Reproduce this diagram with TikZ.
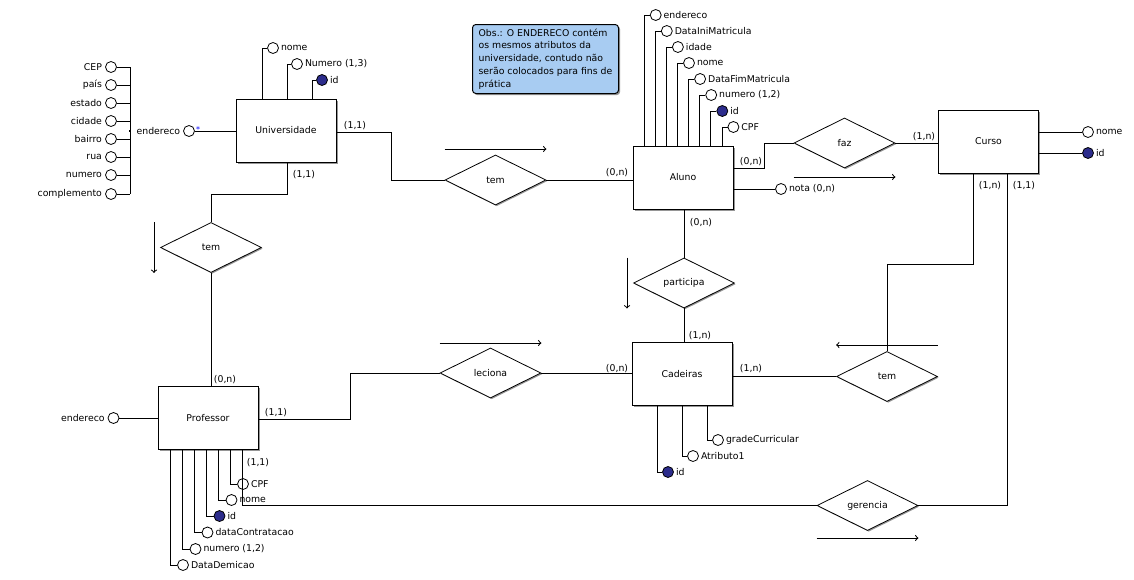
\documentclass[tikz,border=0pt]{standalone}
\usepackage{fontspec}
\setmainfont{DejaVu Sans}
\usetikzlibrary{shapes.geometric,calc,shadows}
\definecolor{keyblue}{RGB}{44,44,140}
\definecolor{noteblue}{RGB}{168,204,242}
\definecolor{shade}{RGB}{150,150,150}
\begin{document}
\begin{tikzpicture}[x=0.75pt,y=-0.75pt,
  font=\fontsize{7}{9}\selectfont,
  line width=0.75pt,
  ent/.style={draw,fill=white,rectangle,minimum width=75pt,minimum height=47.25pt,inner sep=0,
    drop shadow={shadow xshift=1.3pt,shadow yshift=-1.3pt,fill=shade,opacity=1}},
  rel/.style={draw,fill=white,diamond,minimum width=75.75pt,minimum height=37.5pt,inner sep=0,line width=0.6pt,
    drop shadow={shadow xshift=0.9pt,shadow yshift=-0.9pt,fill=shade,opacity=1}},
  attr/.style={circle,draw,fill=white,minimum size=8.25pt,inner sep=0,line width=0.6pt},
  key/.style={attr,fill=keyblue},
  lbl/.style={inner sep=1.2pt},
  card/.style={inner sep=0},
  dirarrow/.style={->,line width=0.75pt},
  note/.style={draw,fill=noteblue,rounded corners=2.5pt,align=left,anchor=north west,inner sep=2.5pt,
    minimum width=109.5pt,minimum height=51.75pt,font=\fontsize{7}{9.6}\selectfont,
    drop shadow={shadow xshift=1.2pt,shadow yshift=-1.2pt,fill=shade,opacity=1}}
]
\useasboundingbox (0,0) rectangle (1134,579);
\fill[white] (0,0) rectangle (1134,579);

% ---------- note ----------
\node[note] (obs) at (472,24) {Obs.: O ENDERECO contém\\os mesmos atributos da\\universidade, contudo não\\serão colocados para fins de\\prática};

% ---------- entities ----------
\node[ent] (U)  at (286,130.5) {Universidade};
\node[ent] (A)  at (683,177.5) {Aluno};
\node[ent] (C)  at (988.5,141.5) {Curso};
\node[ent] (Ca) at (682,374) {Cadeiras};
\node[ent] (P)  at (208,418) {Professor};

% ---------- relationships ----------
\node[rel] (r1) at (495.5,180) {tem};
\node[rel] (r2) at (211,247.5) {tem};
\node[rel] (r3) at (844.5,143) {faz};
\node[rel] (r4) at (684,283) {participa};
\node[rel] (r5) at (490.5,373) {leciona};
\node[rel] (r6) at (887,376.5) {tem};
\node[rel] (r7) at (867.5,505.5) {gerencia};

% ---------- connectors ----------
\draw (U.east |- 0,132) -- (391,132) |- (r1.west);
\draw (r1.east) -- (A.west |- r1.east);
\draw (287,0 |- U.south) -- (287,194) -| (r2.north);
\draw (r2.south) -- (P.north -| r2.south);
\draw (A.east |- 0,168) -- (764,168) |- (r3.west);
\draw (r3.east) -- (C.west |- r3.east);
\draw (A.south -| r4.north) -- (r4.north);
\draw (r4.south) -- (Ca.north -| r4.south);
\draw (P.east |- 0,419) -- (350,419) |- (r5.west);
\draw (r5.east) -- (Ca.west |- r5.east);
\draw (973,0 |- C.south) -- (973,264) -| (r6.north);
\draw (r6.west) -- (Ca.east |- r6.west);
\draw (1007,0 |- C.south) |- (r7.east);

% ---------- reading-direction arrows ----------
\draw[dirarrow] ($(r1.west)+(0,-31)$) -- ($(r1.east)+(0,-31)$);
\draw[dirarrow] ($(r2.north)+(-57,0)$) -- ($(r2.south)+(-57,0)$);
\draw[dirarrow] ($(r3.west)+(0,34)$) -- ($(r3.east)+(0,34)$);
\draw[dirarrow] ($(r4.north)+(-57,0)$) -- ($(r4.south)+(-57,0)$);
\draw[dirarrow] ($(r5.west)+(0,-30)$) -- ($(r5.east)+(0,-30)$);
\draw[dirarrow] ($(r6.east)+(0,-31.5)$) -- ($(r6.west)+(0,-31.5)$);
\draw[dirarrow] ($(r7.west)+(0,32.5)$) -- ($(r7.east)+(0,32.5)$);

% ---------- cardinalities ----------
\node[card] (k1)  at (355,126) {(1,1)};
\node[card] (k2)  at (617,173) {(0,n)};
\node[card] (k3)  at (304,175) {(1,1)};
\node[card] (k4)  at (225,380) {(0,n)};
\node[card] (k5)  at (751,162) {(0,n)};
\node[card] (k6)  at (924,137) {(1,n)};
\node[card] (k7)  at (701,223) {(0,n)};
\node[card] (k8)  at (700,336) {(1,n)};
\node[card] (k9)  at (276,413) {(1,1)};
\node[card] (k10) at (617,369) {(0,n)};
\node[card] (k11) at (751,369) {(1,n)};
\node[card] (k12) at (990,186) {(1,n)};
\node[card] (k13) at (1024,186) {(1,1)};
\node[card] (k14) at (258,463) {(1,1)};

% ---------- Universidade attributes ----------
\node[attr,label={[lbl]right:nome}] (ua1) at (273,48) {};
\node[attr,label={[lbl]right:Numero (1,3)}] (ua2) at (297,64) {};
\node[key,label={[lbl]right:id}] (ua3) at (322,80) {};
\draw (262,0 |- U.north) |- (ua1.west);
\draw (287,0 |- U.north) |- (ua2.west);
\draw (312,0 |- U.north) |- (ua3.west);

% composite address
\node[attr,label={[lbl,inner sep=1.8pt]left:endereco}] (ua4) at (189,131) {};
\draw (U.west |- ua4.east) -- (ua4.east);
\node[text=blue,inner sep=0,font=\fontsize{6}{6}\selectfont] (ast) at (198,129.5) {*};
\coordinate (etop) at (130,67);
\coordinate (ebot) at (130,194);
\draw (etop) -- (ebot);
\node[fill,minimum size=2.2pt,inner sep=0] (ej) at (130,131) {};
\foreach \n/\t/\y in {e1/CEP/67,e2/país/85,e3/estado/103,e4/cidade/121,e5/bairro/139,e6/rua/157,e7/numero/175,e8/complemento/194}{
  \node[attr,label={[lbl,inner sep=2pt]left:\t}] (\n) at (111,\y) {};
  \draw (\n.east) -- (\n.east -| etop);
}

% ---------- Aluno attributes ----------
\node[attr,label={[lbl]right:endereco}]         (aa0) at (655.7,15) {};
\node[attr,label={[lbl]right:DataIniMatricula}] (aa1) at (666.8,31) {};
\node[attr,label={[lbl]right:idade}]            (aa2) at (677.9,47) {};
\node[attr,label={[lbl]right:nome}]             (aa3) at (689.0,63) {};
\node[attr,label={[lbl]right:DataFimMatricula}] (aa4) at (700.1,79) {};
\node[attr,label={[lbl]right:{numero (1,2)}}]   (aa5) at (711.2,95) {};
\node[key,label={[lbl]right:id}]                (aa6) at (722.3,111) {};
\node[attr,label={[lbl]right:CPF}]              (aa7) at (733.4,127) {};
\draw (644.3,0 |- A.north) |- (aa0.west);
\draw (655.4,0 |- A.north) |- (aa1.west);
\draw (666.5,0 |- A.north) |- (aa2.west);
\draw (677.6,0 |- A.north) |- (aa3.west);
\draw (688.7,0 |- A.north) |- (aa4.west);
\draw (699.8,0 |- A.north) |- (aa5.west);
\draw (710.9,0 |- A.north) |- (aa6.west);
\draw (722.0,0 |- A.north) |- (aa7.west);
\node[attr,label={[lbl]right:{nota (0,n)}}] (an) at (781,189) {};
\draw (A.east |- an.west) -- (an.west);

% ---------- Curso attributes ----------
\node[attr,label={[lbl]right:nome}] (cn) at (1088,132) {};
\node[key,label={[lbl]right:id}] (ci) at (1088,153) {};
\draw (C.east |- cn.west) -- (cn.west);
\draw (C.east |- ci.west) -- (ci.west);

% ---------- Cadeiras attributes ----------
\node[key,label={[lbl]right:id}] (cd1) at (668,472) {};
\node[attr,label={[lbl]right:Atributo1}] (cd2) at (693,456) {};
\node[attr,label={[lbl]right:gradeCurricular}] (cd3) at (718,440) {};
\draw (657.7,0 |- Ca.south) |- (cd1.west);
\draw (682.3,0 |- Ca.south) |- (cd2.west);
\draw (707.3,0 |- Ca.south) |- (cd3.west);

% ---------- Professor attributes ----------
\node[attr,label={[lbl,inner sep=1.8pt]left:endereco}] (pe) at (113.5,418) {};
\draw (pe.east) -- (P.west |- pe.east);
\node[attr,label={[lbl]right:DataDemicao}] (pa1) at (183,565) {};
\node[attr,label={[lbl]right:{numero (1,2)}}] (pa2) at (195.5,549) {};
\node[attr,label={[lbl]right:dataContratacao}] (pa3) at (207.5,532.5) {};
\node[key,label={[lbl]right:id}] (pa4) at (219.5,516) {};
\node[attr,label={[lbl]right:nome}] (pa5) at (231.5,500) {};
\node[attr,label={[lbl]right:CPF}] (pa6) at (243,484) {};
\draw (170.7,0 |- P.south) |- (pa1.west);
\draw (182.3,0 |- P.south) |- (pa2.west);
\draw (194.3,0 |- P.south) |- (pa3.west);
\draw (206.7,0 |- P.south) |- (pa4.west);
\draw (218.7,0 |- P.south) |- (pa5.west);
\draw (230.7,0 |- P.south) |- (pa6.west);

% management link drawn last, over the attribute labels
\draw (242,0 |- P.south) |- (r7.west);
\end{tikzpicture}
\end{document}
